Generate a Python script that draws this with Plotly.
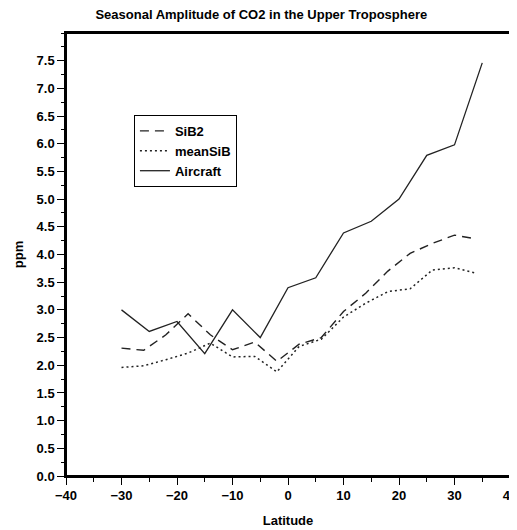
import plotly.graph_objects as go

# model grid (4 deg) and aircraft bins (5 deg)
model_lat = [-30, -26, -22, -18, -14, -10, -6, -2, 2, 6, 10, 14, 18, 22, 26, 30, 34]
sib2 = [2.31, 2.27, 2.55, 2.93, 2.55, 2.28, 2.42, 2.07, 2.38, 2.5, 2.97, 3.3, 3.7, 4.02, 4.2, 4.35, 4.28]
mean_sib = [1.96, 1.99, 2.1, 2.22, 2.4, 2.15, 2.16, 1.88, 2.34, 2.47, 2.87, 3.12, 3.33, 3.38, 3.72, 3.76, 3.66]

air_lat = [-30, -25, -20, -15, -10, -5, 0, 5, 10, 15, 20, 25, 30, 35]
aircraft = [3.0, 2.61, 2.79, 2.21, 3.0, 2.5, 3.4, 3.58, 4.39, 4.6, 5.0, 5.79, 5.98, 7.46]

y_ticks = [0.0, 0.5, 1.0, 1.5, 2.0, 2.5, 3.0, 3.5, 4.0, 4.5, 5.0, 5.5, 6.0, 6.5, 7.0, 7.5]
x_ticks = [-40, -30, -20, -10, 0, 10, 20, 30, 40]

FONT = "Liberation Sans, Arial, sans-serif"
INK = "#222222"

fig = go.Figure()
fig.add_trace(go.Scatter(x=model_lat, y=sib2, mode="lines", name="SiB2",
                         line=dict(color=INK, width=1.4, dash="9px,6px")))
fig.add_trace(go.Scatter(x=model_lat, y=mean_sib, mode="lines", name="meanSiB",
                         line=dict(color=INK, width=1.5, dash="2px,3px")))
fig.add_trace(go.Scatter(x=air_lat, y=aircraft, mode="lines", name="Aircraft",
                         line=dict(color=INK, width=1.3)))

# page body has an 8px margin, so the figure is shifted; margins compensate
fig.update_layout(
    width=517, height=522,
    margin=dict(l=58, r=15, t=25, b=54, autoexpand=False),
    paper_bgcolor="white", plot_bgcolor="white",
    font=dict(family=FONT, size=13, color="black"),
    title=dict(text="Seasonal Amplitude of CO2 in the Upper Troposphere",
               x=0.49, xanchor="center", y=0.988, yanchor="middle",
               font=dict(size=13, weight="bold")),
    legend=dict(x=0.153, y=0.815, xanchor="left", yanchor="top",
                bordercolor="black", borderwidth=1, bgcolor="white",
                font=dict(size=13, weight="bold"), tracegroupgap=0,
                itemwidth=30),
    showlegend=True,
)
# plot frame
fig.add_shape(type="rect", xref="paper", yref="paper", x0=0, x1=1, y0=0, y1=1,
              line=dict(color="black", width=2), layer="above")

fig.update_xaxes(
    range=[-40, 40], tickvals=x_ticks, ticks="outside", ticklen=7, tickwidth=1.2,
    tickcolor="black", showline=True, linecolor="black", linewidth=1.5, mirror=True,
    showgrid=False, zeroline=False, automargin=False, ticklabeloverflow="allow",
    tickfont=dict(size=13, weight="bold"),
    minor=dict(dtick=5, ticks="outside", ticklen=4, tickcolor="black", showgrid=False),
    title=dict(text="Latitude", font=dict(size=13, weight="bold"), standoff=14),
)
fig.update_yaxes(
    range=[0, 8], tickvals=y_ticks, tickformat=".1f", ticks="outside", ticklen=7,
    tickwidth=1.2, tickcolor="black", showline=True, linecolor="black", linewidth=1.5,
    mirror=True, showgrid=False, zeroline=False, automargin=False,
    tickfont=dict(size=13, weight="bold"),
    minor=dict(dtick=0.25, ticks="outside", ticklen=3, tickcolor="black", showgrid=False),
    title=dict(text="ppm", font=dict(size=13, weight="bold"), standoff=10),
)

fig.write_html("out.html")
